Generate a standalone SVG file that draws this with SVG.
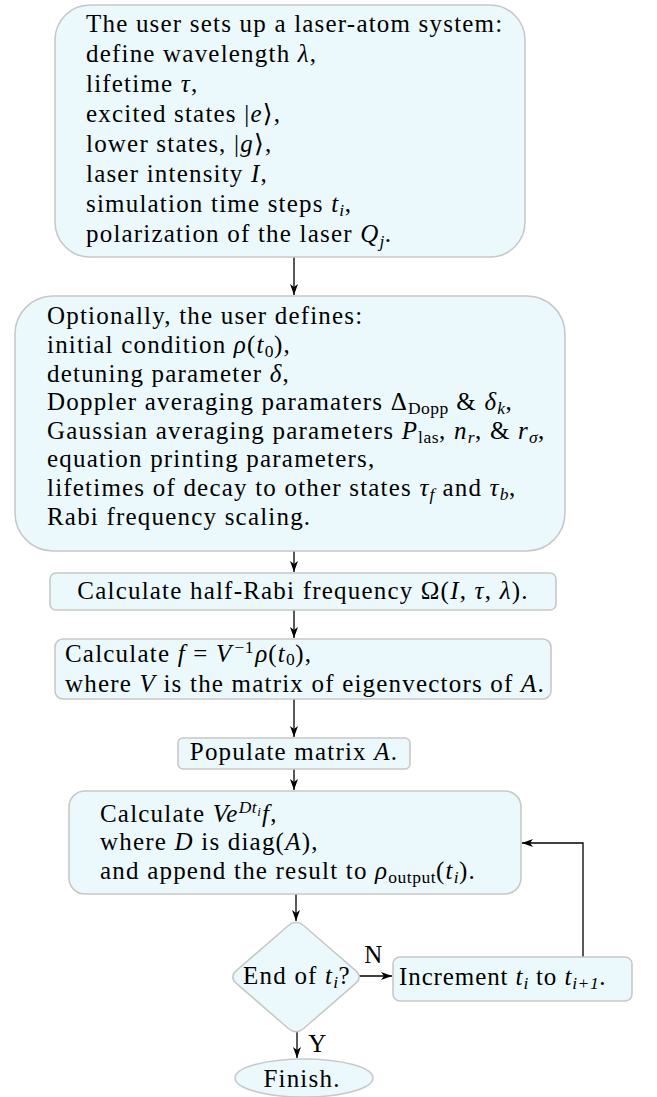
<svg xmlns="http://www.w3.org/2000/svg" width="657" height="1097" viewBox="0 0 657 1097" font-family="'Liberation Serif', 'Times New Roman', 'DejaVu Serif', serif">
<style>
text{font-family:'Liberation Serif','Times New Roman','DejaVu Serif',serif;font-size:25px;letter-spacing:1.2px;fill:#000}
.i{font-style:italic}
.s{font-size:17.5px;letter-spacing:0.5px}
.node{fill:#ebf9fd;stroke:#c8c8c8;stroke-width:1.6}
.edge{fill:none;stroke:#000;stroke-width:1.3}
.lbl{text-anchor:middle}
</style>
<defs>
<marker id="ah" markerUnits="userSpaceOnUse" markerWidth="12" markerHeight="10" refX="11" refY="4" orient="auto">
<path d="M0,0 L11,4 L0,8 L3,4 Z" fill="#000"/>
</marker>
</defs>

<g id="connectors">
<path class="edge" d="M294,257 V295" marker-end="url(#ah)"/>
<path class="edge" d="M294,551 V572" marker-end="url(#ah)"/>
<path class="edge" d="M294,610 V638" marker-end="url(#ah)"/>
<path class="edge" d="M294,699 V737" marker-end="url(#ah)"/>
<path class="edge" d="M294,769 V790" marker-end="url(#ah)"/>
<path class="edge" d="M296,894 V921" marker-end="url(#ah)"/>
<path class="edge" d="M359,976 H392" marker-end="url(#ah)"/>
<path class="edge" d="M583,957 V843 H522" marker-end="url(#ah)"/>
<path class="edge" d="M297,1032 V1058" marker-end="url(#ah)"/>
<text class="lbl" x="374" y="963">N</text>
<text class="lbl" x="318" y="1052">Y</text>
</g>

<g id="setup">
<rect class="node" x="55" y="5" width="470" height="252" rx="35"/>
<text x="86" y="32">The user sets up a laser-atom system:</text>
<text x="86" y="62">define wavelength <tspan class="i">λ</tspan>,</text>
<text x="86" y="92">lifetime <tspan class="i">τ</tspan>,</text>
<text x="86" y="122">excited states |<tspan class="i">e</tspan>⟩,</text>
<text x="86" y="152">lower states, |<tspan class="i">g</tspan>⟩,</text>
<text x="86" y="182">laser intensity <tspan class="i">I</tspan>,</text>
<text x="86" y="212">simulation time steps <tspan class="i">t</tspan><tspan class="s i" dy="4">i</tspan><tspan dy="-4">,</tspan></text>
<text x="86" y="242">polarization of the laser <tspan class="i">Q</tspan><tspan class="s i" dy="5">j</tspan><tspan dy="-5">.</tspan></text>
</g>

<g id="optional">
<rect class="node" x="15" y="296" width="550" height="255" rx="38"/>
<text x="47" y="324">Optionally, the user defines:</text>
<text x="47" y="353">initial condition <tspan class="i">ρ</tspan>(<tspan class="i">t</tspan><tspan class="s" dy="4">0</tspan><tspan dy="-4">),</tspan></text>
<text x="47" y="382">detuning parameter <tspan class="i">δ</tspan>,</text>
<text x="47" y="410">Doppler averaging paramaters Δ<tspan class="s" dy="4">Dopp</tspan><tspan dy="-4"> &amp; </tspan><tspan class="i">δ</tspan><tspan class="s i" dy="4">k</tspan><tspan dy="-4">,</tspan></text>
<text x="47" y="439">Gaussian averaging parameters <tspan class="i">P</tspan><tspan class="s" dy="4">las</tspan><tspan dy="-4">, </tspan><tspan class="i">n</tspan><tspan class="s i" dy="4">r</tspan><tspan dy="-4">, &amp; </tspan><tspan class="i">r</tspan><tspan class="s i" dy="4">σ</tspan><tspan dy="-4">,</tspan></text>
<text x="47" y="467">equation printing parameters,</text>
<text x="47" y="496">lifetimes of decay to other states <tspan class="i">τ</tspan><tspan class="s i" dy="4">f</tspan><tspan dy="-4"> and </tspan><tspan class="i">τ</tspan><tspan class="s i" dy="4">b</tspan><tspan dy="-4">,</tspan></text>
<text x="47" y="525">Rabi frequency scaling.</text>
</g>

<g id="rabi">
<rect class="node" x="50" y="573" width="506" height="37" rx="6"/>
<text class="lbl" x="303" y="599">Calculate half-Rabi frequency Ω(<tspan class="i">I</tspan>, <tspan class="i">τ</tspan>, <tspan class="i">λ</tspan>).</text>
</g>

<g id="calcf">
<rect class="node" x="55" y="639" width="496" height="60" rx="8"/>
<text x="65" y="662">Calculate <tspan class="i">f</tspan> = <tspan class="i">V</tspan><tspan class="s" dx="2" dy="-9">−1</tspan><tspan class="i" dx="1" dy="9">ρ</tspan>(<tspan class="i">t</tspan><tspan class="s" dy="3">0</tspan><tspan dy="-3">),</tspan></text>
<text x="65" y="692">where <tspan class="i">V</tspan> is the matrix of eigenvectors of <tspan class="i">A</tspan>.</text>
</g>

<g id="populate">
<rect class="node" x="178" y="738" width="232" height="31" rx="5"/>
<text class="lbl" x="294" y="760">Populate matrix <tspan class="i">A</tspan>.</text>
</g>

<g id="calcv">
<rect class="node" x="69" y="791" width="452" height="103" rx="16"/>
<text x="100" y="822">Calculate <tspan class="i">Ve</tspan><tspan class="s i" dy="-9">Dt</tspan><tspan class="i" dy="3" style="font-size:13px">i</tspan><tspan class="i" dy="6">f</tspan>,</text>
<text x="100" y="850">where <tspan class="i">D</tspan> is diag(<tspan class="i">A</tspan>),</text>
<text x="100" y="879">and append the result to <tspan class="i">ρ</tspan><tspan class="s" dy="4">output</tspan><tspan dy="-4">(</tspan><tspan class="i">t</tspan><tspan class="s i" dy="4">i</tspan><tspan dy="-4">).</tspan></text>
</g>

<g id="decision">
<path class="node" d="M288.4,925.5 Q296,919 303.6,925.5 L355.4,970.4 Q363,977 355.4,983.6 L303.6,1028.5 Q296,1035 288.4,1028.5 L236.6,983.6 Q229,977 236.6,970.4 Z"/>
<text class="lbl" x="297" y="984">End of <tspan class="i">t</tspan><tspan class="s i" dy="4">i</tspan><tspan dy="-4">?</tspan></text>
</g>

<g id="increment">
<rect class="node" x="393" y="957" width="239" height="44" rx="7"/>
<text x="399" y="985" style="letter-spacing:0.9px">Increment <tspan class="i">t</tspan><tspan class="s i" dy="4">i</tspan><tspan dy="-4"> to </tspan><tspan class="i">t</tspan><tspan class="s i" dy="4">i+1</tspan><tspan dy="-4">.</tspan></text>
</g>

<g id="finish">
<ellipse class="node" cx="304" cy="1078" rx="69" ry="19"/>
<text class="lbl" x="302" y="1087">Finish.</text>
</g>
</svg>
